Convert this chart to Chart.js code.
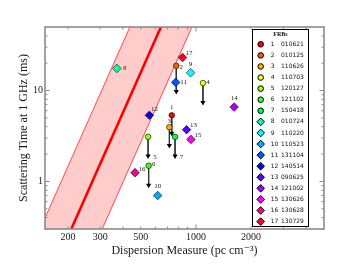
<!DOCTYPE html>
<html>
<head>
<meta charset="utf-8">
<script src="https://cdn.jsdelivr.net/npm/chart.js@4.4.0/dist/chart.umd.min.js"></script>
<style>
  html, body { margin: 0; padding: 0; background: #fff; }
  canvas { display: block; }
</style>
</head>
<body>
<canvas id="grafico-frb" width="360" height="270"></canvas>
<script>
  'use strict';

  // FRBs: numero, nombre, DM (pc cm^-3) y tiempo de dispersion a 1 GHz (ms)
  var frbNumeros = [1, 2, 3, 4, 5, 6, 7, 8, 9, 10, 11, 12, 13, 14, 15, 16, 17];
  var frbNombres = ['010621', '010125', '110626', '110703', '120127', '121102', '150418', '010724',
    '110220', '110523', '131104', '140514', '090625', '121002', '130626', '130628', '130729'];
  var frbDM = [738, 781, 716, 1092, 548, 552, 769, 370, 935, 618, 775, 557, 889, 1616, 939, 465, 845];
  var frbTau = [5.34, 18.7, 3.95, 12.1, 3.1, 1.49, 3.1, 17.5, 15.7, 0.70, 12.3, 5.34, 3.71, 6.58, 2.90, 1.25, 23.1];
  // limites superiores (FRB 1-7): donde termina la flecha
  var limiteFin = [3.4, 9.75, 2.49, 7.4, 1.91, 0.91, 1.91];

  // ajuste y banda
  var ajusteX = [140, 1000];
  var ajusteY = [0.049, 369];
  var bandaAlta = [0.29, 2160];
  var bandaBaja = [0.0084, 63];

  var ticksX = [200, 300, 500, 1000, 2000];
  var ticksY = [1, 10];

  // estilos
  var colores = ['#ff0000', '#ff5a00', '#ffaa00', '#eeff00', '#99ff00', '#44ff00', '#00ff44', '#00ffaa',
    '#00ffff', '#00aaff', '#0055ff', '#0000ff', '#5500ff', '#aa00ff', '#ff00ff', '#ff0088', '#ff0022'];
  var etiquetaDesp = [[0, -8], [5, 1], [0, -6.5], [5, -1], [7, 20], [5, -1.5], [6.5, 20], [8, 0],
    [0, -9], [0, -9], [8, 0], [5, -6], [7, -5], [0, -9], [7, -4], [7, -3.5], [6.5, -4]];
  var serif = '"Liberation Serif", "DejaVu Serif", serif';
  var gris = '#8c8c8c';

  function puntos(xs, ys) {
    return xs.map(function(x, i) { return {x: x, y: ys[i]}; });
  }

  var datasets = [
    {type: 'line', data: puntos(ajusteX, bandaAlta), borderColor: '#ff2020', borderWidth: 0.8,
      pointRadius: 0, fill: '+1', backgroundColor: 'rgba(255,0,0,0.2)', order: 3},
    {type: 'line', data: puntos(ajusteX, bandaBaja), borderColor: '#ff2020', borderWidth: 0.8,
      pointRadius: 0, fill: false, order: 3},
    {type: 'line', data: puntos(ajusteX, ajusteY), borderColor: '#ff0000', borderWidth: 2.6,
      pointRadius: 0, fill: false, order: 2}
  ];

  frbNumeros.forEach(function(n, i) {
    var esLimite = i < limiteFin.length;
    datasets.push({
      label: n + ' ' + frbNombres[i],
      data: [{x: frbDM[i], y: frbTau[i]}],
      pointStyle: esLimite ? 'circle' : 'rectRot',
      pointRadius: esLimite ? 2.8 : 4.3,
      pointBackgroundColor: colores[i],
      pointBorderColor: '#000',
      pointBorderWidth: 0.6,
      order: 0
    });
    if (esLimite) {
      datasets.push({
        type: 'line',
        data: [{x: frbDM[i], y: frbTau[i]}, {x: frbDM[i], y: limiteFin[i]}],
        borderColor: '#333',
        borderWidth: 1,
        pointRadius: [0, 3],
        pointStyle: 'triangle',
        pointRotation: 180,
        pointBackgroundColor: '#000',
        pointBorderColor: '#000',
        pointBorderWidth: 0,
        fill: false,
        order: 1
      });
    }
  });

  // etiquetas, marco, ticks hacia adentro y leyenda
  var decorado = {
    id: 'decorado',
    afterDatasetsDraw: function(chart) {
      var ctx = chart.ctx;
      var sx = chart.scales.x, sy = chart.scales.y, a = chart.chartArea;
      ctx.save();

      ctx.font = '7px ' + serif;
      ctx.fillStyle = '#222';
      ctx.textAlign = 'center';
      ctx.textBaseline = 'middle';
      frbNumeros.forEach(function(n, i) {
        ctx.fillText(String(n), sx.getPixelForValue(frbDM[i]) + etiquetaDesp[i][0],
          sy.getPixelForValue(frbTau[i]) + etiquetaDesp[i][1]);
      });

      ctx.strokeStyle = gris;
      ctx.lineWidth = 1;
      [100, 1000].forEach(function(d) {
        for (var m = 1; m < 10; m++) {
          var v = m * d;
          if (v <= sx.min || v >= sx.max) continue;
          var px = sx.getPixelForValue(v), l = m === 1 ? 4.5 : 2.5;
          ctx.beginPath();
          ctx.moveTo(px, a.bottom); ctx.lineTo(px, a.bottom - l);
          ctx.moveTo(px, a.top); ctx.lineTo(px, a.top + l);
          ctx.stroke();
        }
      });
      [0.1, 1, 10].forEach(function(d) {
        for (var m = 1; m < 10; m++) {
          var v = m * d;
          if (v <= sy.min || v >= sy.max) continue;
          var py = sy.getPixelForValue(v), l = m === 1 ? 4.5 : 2.5;
          ctx.beginPath();
          ctx.moveTo(a.left, py); ctx.lineTo(a.left + l, py);
          ctx.moveTo(a.right, py); ctx.lineTo(a.right - l, py);
          ctx.stroke();
        }
      });
      ctx.lineWidth = 1.6;
      ctx.strokeRect(a.left, a.top, a.right - a.left, a.bottom - a.top);

      // leyenda
      var lx = 252.5, ly = 29.5, lw = 56, lh = 197;
      ctx.fillStyle = '#fff';
      ctx.fillRect(lx, ly, lw, lh);
      ctx.strokeStyle = '#000';
      ctx.lineWidth = 1;
      ctx.strokeRect(lx, ly, lw, lh);
      ctx.fillStyle = '#111';
      ctx.textAlign = 'center';
      ctx.font = 'bold 6px ' + serif;
      ctx.fillText('FRBs', lx + lw / 2, 34);
      ctx.font = '6px "DejaVu Sans", sans-serif';
      frbNumeros.forEach(function(n, i) {
        var y = 44.3 + i * 11.08;
        var esLimite = i < limiteFin.length;
        ctx.fillStyle = colores[i];
        ctx.strokeStyle = '#000';
        Chart.helpers.drawPoint(ctx, {
          pointStyle: esLimite ? 'circle' : 'rectRot',
          radius: esLimite ? 2.8 : 3.8,
          rotation: 0,
          borderWidth: 0.6
        }, 260.7, y);
        ctx.fillStyle = '#111';
        ctx.textAlign = 'left';
        ctx.fillText(String(n), 270.7, y);
        ctx.fillText(frbNombres[i], 281, y);
      });
      ctx.restore();
    }
  };

  new Chart(document.getElementById('grafico-frb'), {
    type: 'scatter',
    data: {datasets: datasets},
    plugins: [decorado],
    options: {
      responsive: false,
      animation: false,
      layout: {padding: {left: 0, right: 36, top: 27, bottom: 0}},
      plugins: {legend: {display: false}, tooltip: {enabled: false}},
      elements: {line: {tension: 0}},
      scales: {
        x: {
          type: 'logarithmic', min: 150, max: 5000,
          afterFit: function(s) { s.height = 41; },
          afterBuildTicks: function(s) { s.ticks = ticksX.map(function(v) { return {value: v}; }); },
          ticks: {autoSkip: false, maxRotation: 0, padding: 2, color: '#1a1a1a',
            font: {family: serif, size: 10}, callback: function(v) { return String(v); }},
          grid: {display: false, drawTicks: false},
          border: {display: false},
          title: {display: true, text: 'Dispersion Measure (pc cm\u207B\u00B3)', color: '#1a1a1a',
            font: {family: serif, size: 12}, padding: {top: 0, bottom: 12}}
        },
        y: {
          type: 'logarithmic', min: 0.3, max: 50,
          afterFit: function(s) { s.width = 45; },
          afterBuildTicks: function(s) { s.ticks = ticksY.map(function(v) { return {value: v}; }); },
          ticks: {autoSkip: false, padding: 2, color: '#1a1a1a',
            font: {family: serif, size: 10}, callback: function(v) { return String(v); }},
          grid: {display: false, drawTicks: false},
          border: {display: false},
          title: {display: true, text: 'Scattering Time at 1 GHz (ms)', color: '#1a1a1a',
            font: {family: serif, size: 12}, padding: {top: 17, bottom: 0}}
        }
      }
    }
  });
</script>
</body>
</html>
